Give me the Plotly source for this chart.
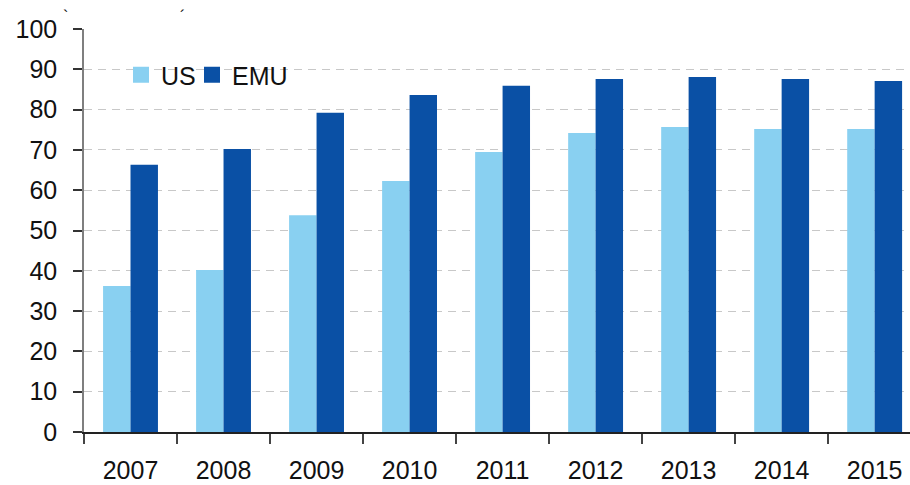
import plotly.graph_objects as go

years = ["2007", "2008", "2009", "2010", "2011", "2012", "2013", "2014", "2015"]
us = [36.2, 40.2, 53.8, 62.3, 69.5, 74.2, 75.7, 75.2, 75.2]
emu = [66.3, 70.2, 79.2, 83.6, 85.9, 87.6, 88.1, 87.6, 87.1]
y_ticks = [0, 10, 20, 30, 40, 50, 60, 70, 80, 90, 100]

font = "Liberation Sans, Arial, sans-serif"
c_us = "#89D0F1"
c_emu = "#0A50A5"

fig = go.Figure()
fig.add_trace(go.Bar(x=years, y=us, name="US", marker_color=c_us, marker_line_width=0, showlegend=False))
fig.add_trace(go.Bar(x=years, y=emu, name="EMU", marker_color=c_emu, marker_line_width=0, showlegend=False))
# legend entries with larger square symbols
fig.add_trace(go.Scatter(x=[None], y=[None], mode="markers", name="US", legend="legend",
                         marker=dict(symbol="square", size=18, color=c_us)))
fig.add_trace(go.Scatter(x=[None], y=[None], mode="markers", name="EMU", legend="legend2",
                         marker=dict(symbol="square", size=18, color=c_emu)))

L, T, B = 84, 29, 53
W, H = 910, 485
pw = W - L
ph = H - T - B

leg_common = dict(orientation="h", y=(H - 75 - B) / ph, xanchor="left", yanchor="middle",
                  font=dict(size=25), bgcolor="rgba(0,0,0,0)", itemclick=False)

fig.update_layout(
    width=W, height=H,
    margin=dict(l=L, r=0, t=T, b=B, autoexpand=False),
    paper_bgcolor="white", plot_bgcolor="white",
    barmode="group", bargap=0.41, bargroupgap=0,
    font=dict(family=font, size=25, color="#111111"),
    showlegend=True,
    legend=dict(x=(121 - L) / pw, **leg_common),
    legend2=dict(x=(192 - L) / pw, **leg_common),
    xaxis=dict(type="category", range=[-0.5, 8.38], tickson="boundaries",
               ticks="outside", ticklen=10, tickcolor="#444444", tickwidth=1.5,
               showline=True, linecolor="#222222", linewidth=1.5,
               showgrid=False, ticklabelstandoff=15, automargin=False,
               tickfont=dict(size=25)),
    yaxis=dict(range=[0, 100], tickvals=y_ticks, ticks="outside", ticklen=9,
               tickcolor="#333333", tickwidth=1.5,
               showline=True, linecolor="#7f7f7f", linewidth=1.5,
               showgrid=True, gridcolor="#c8c8c8", griddash="8px,6px", gridwidth=1.3,
               zeroline=False, ticklabelstandoff=11, automargin=False,
               tickfont=dict(size=25)),
    annotations=[
        dict(text="`", x=(65 - L) / pw, y=(H - 17 - B) / ph, xref="paper", yref="paper",
             showarrow=False, font=dict(size=16), xanchor="center", yanchor="middle"),
        dict(text="´", x=(182 - L) / pw, y=(H - 17 - B) / ph, xref="paper", yref="paper",
             showarrow=False, font=dict(size=16), xanchor="center", yanchor="middle"),
    ],
)

fig.write_html("out.html", config={"displayModeBar": False},
               post_script="document.body.style.margin='0';document.body.style.overflow='hidden';")
